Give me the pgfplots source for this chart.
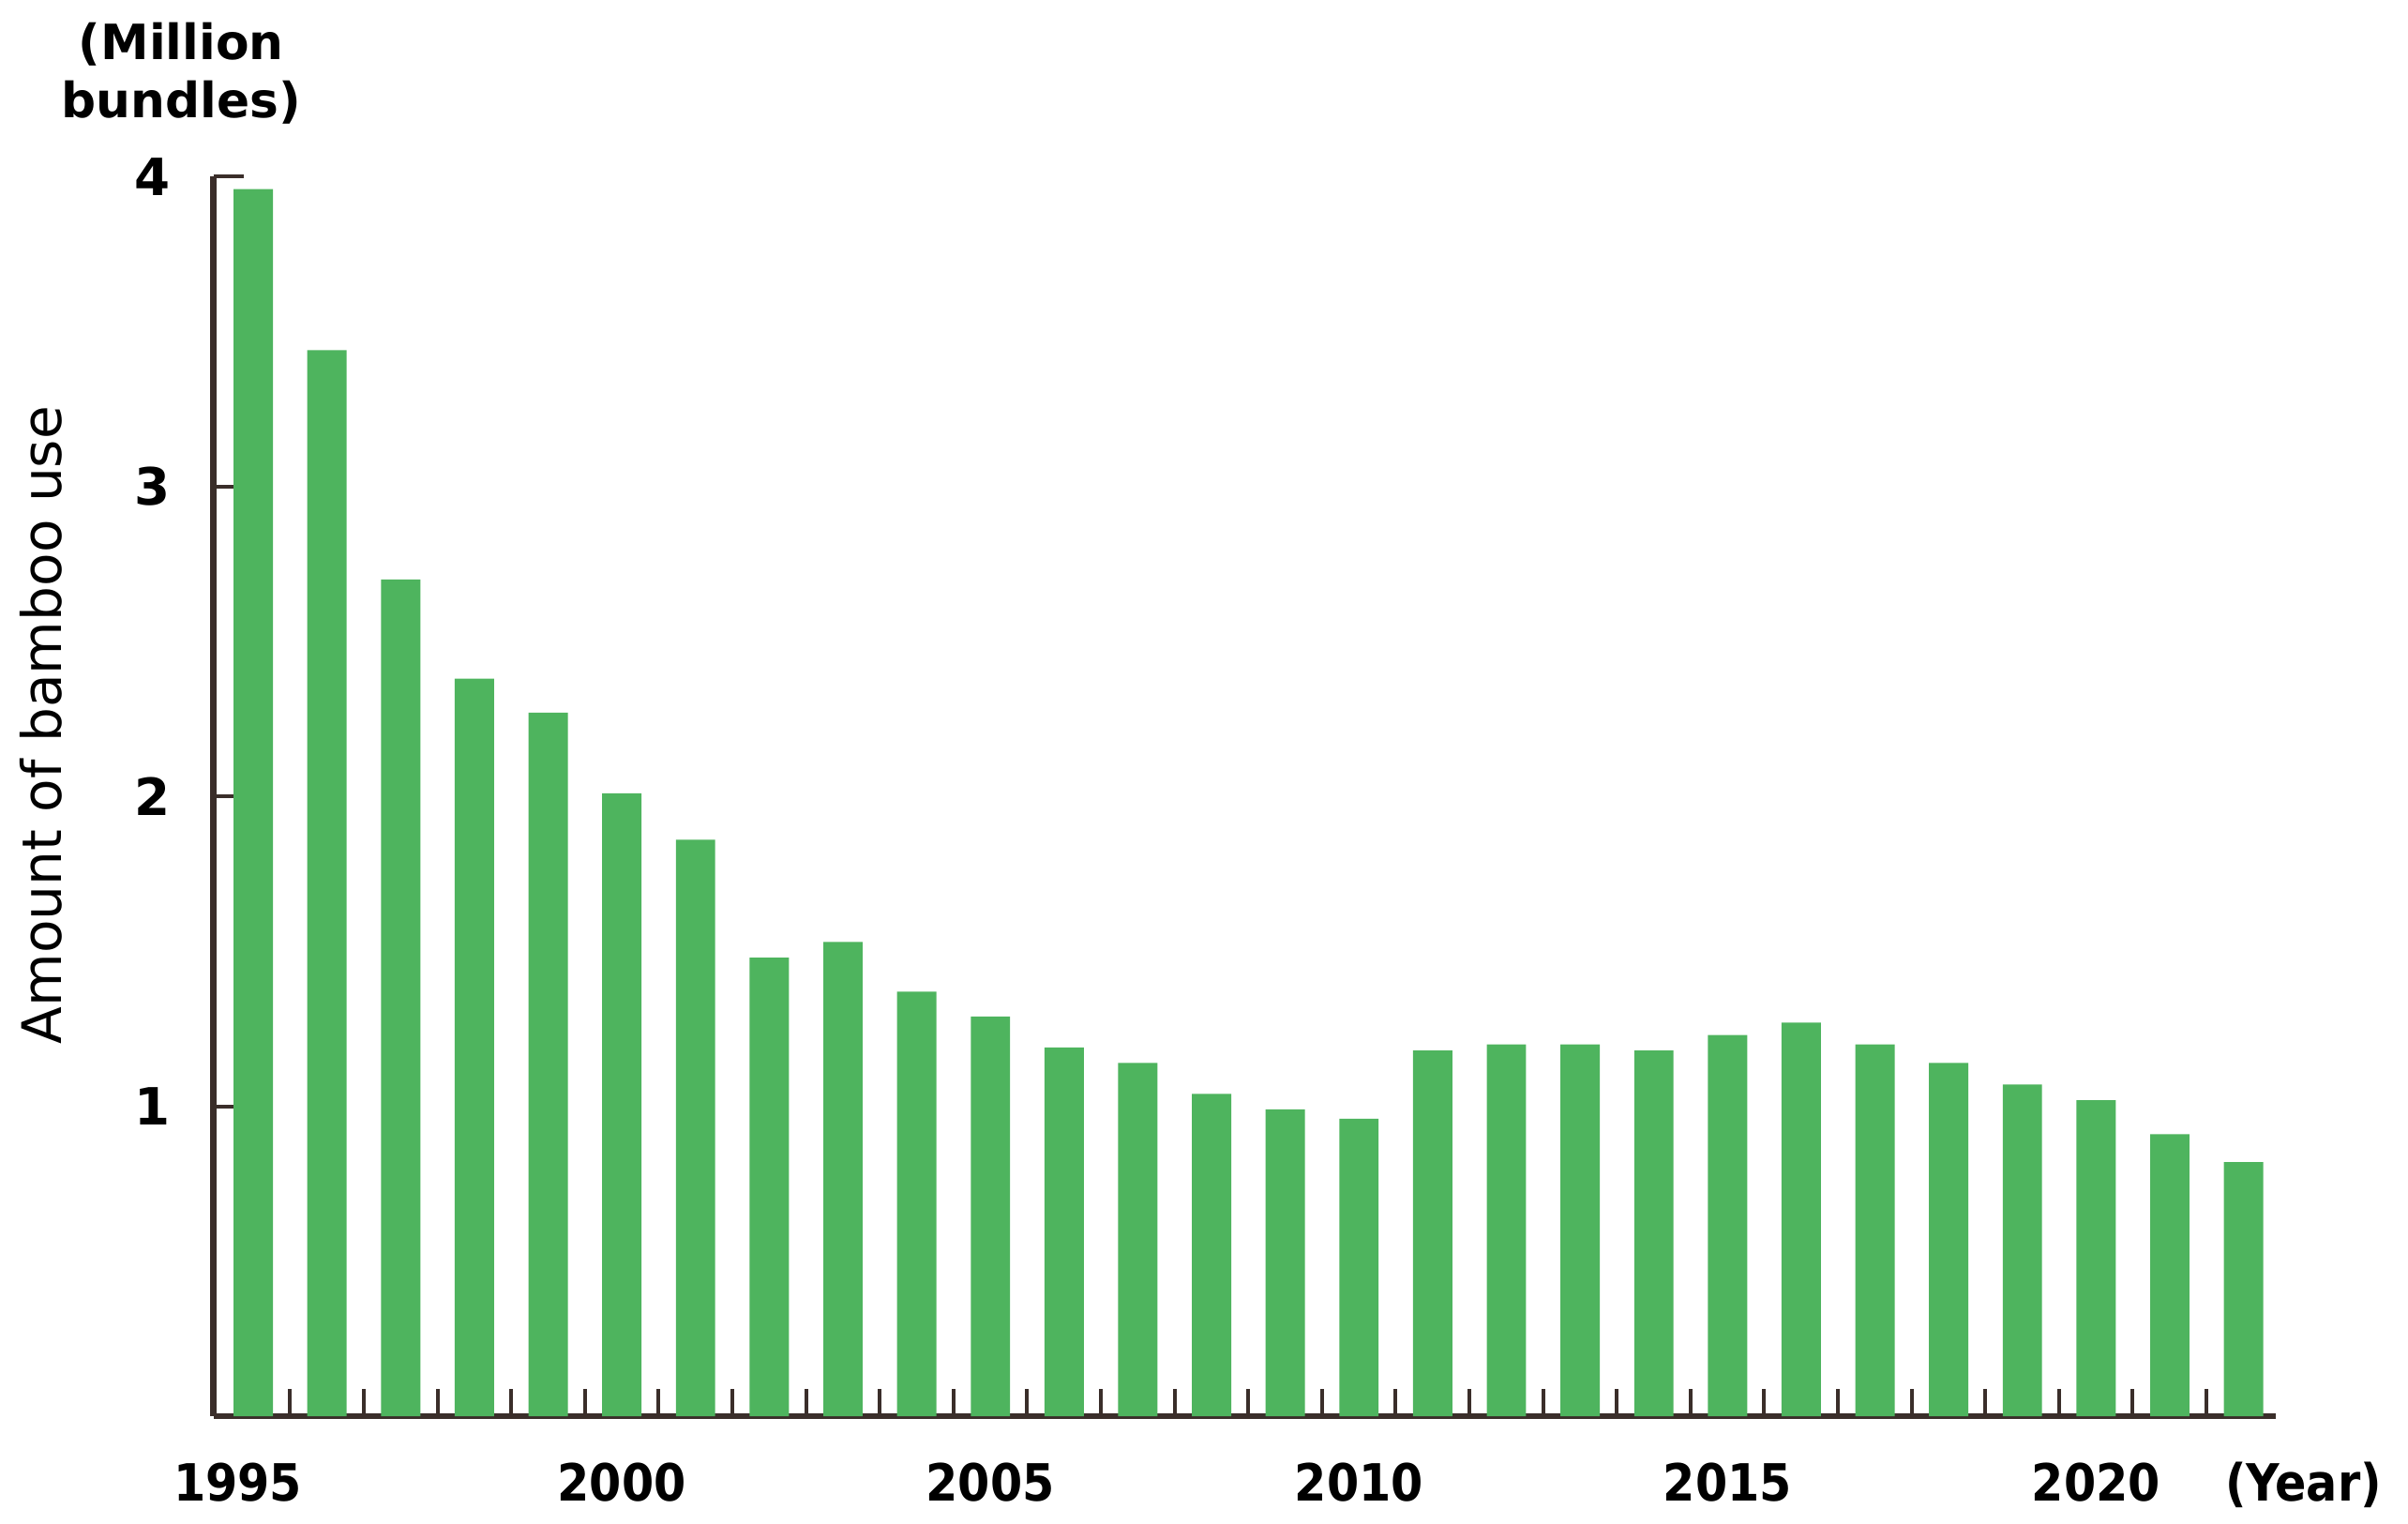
\documentclass[border=0pt]{standalone}
\usepackage{pgfplots}
\pgfplotsset{compat=1.18}
\usepackage{fontspec}
\setmainfont{DejaVu Sans}
\newfontfamily\cond{DejaVu Sans Condensed}
\definecolor{bargreen}{RGB}{78,180,94}
\definecolor{axisdark}{HTML}{3A2E2A}

\pgfplotstableread{
year value
1995 3.96
1996 3.44
1997 2.70
1998 2.38
1999 2.27
2000 2.01
2001 1.86
2002 1.48
2003 1.53
2004 1.37
2005 1.29
2006 1.19
2007 1.14
2008 1.04
2009 0.99
2010 0.96
2011 1.18
2012 1.20
2013 1.20
2014 1.18
2015 1.23
2016 1.27
2017 1.20
2018 1.14
2019 1.07
2020 1.02
2021 0.91
2022 0.82
}\bamboo

\begin{document}
\begin{tikzpicture}
  \useasboundingbox (-13.9mm,-7mm) rectangle (142.9mm,92.2mm);
  \begin{axis}[
      scale only axis,
      width=134.3mm, height=80.7mm,
      at={(0,0)}, anchor=south west,
      xmin=1994.46, xmax=2022.44,
      ymin=0, ymax=4,
      axis lines=left,
      axis line style={-, line width=1.15pt, draw=axisdark},
      tick align=inside,
      tick style={line width=0.7pt, draw=axisdark},
      xtick={1995,2000,2005,2010,2015,2020},
      xticklabels={\hspace*{-2mm}1995,2000,2005,2010,2015,2020},
      major x tick style={draw=none},
      minor xtick={1995.5,1996.5,...,2021.5},
      minor tick length=1.8mm,
      major tick length=2mm,
      ytick={1,2,3,4},
      yticklabels={1,2,3,4},
      xticklabel style={font=\cond\bfseries\fontsize{9.5}{11}\selectfont, anchor=base, yshift=-5.5mm},
      yticklabel style={font=\bfseries\fontsize{9.5}{11}\selectfont, xshift=-1.6mm},
      clip=false,
    ]
    \addplot[ybar, bar width=2.56mm, fill=bargreen, draw=none] table[x=year, y=value] {\bamboo};
  \end{axis}
  \node[rotate=90, font=\fontsize{10.1}{12}\selectfont] at (-11.2mm,45mm) {Amount of bamboo use};
  \node[align=center, font=\bfseries\fontsize{9}{10.8}\selectfont] at (-2.1mm,87.4mm) {(Million\\bundles)};
  \node[anchor=base, font=\cond\bfseries\fontsize{9.5}{11}\selectfont] at (136.1mm,-5.5mm) {(Year)};
\end{tikzpicture}
\end{document}
